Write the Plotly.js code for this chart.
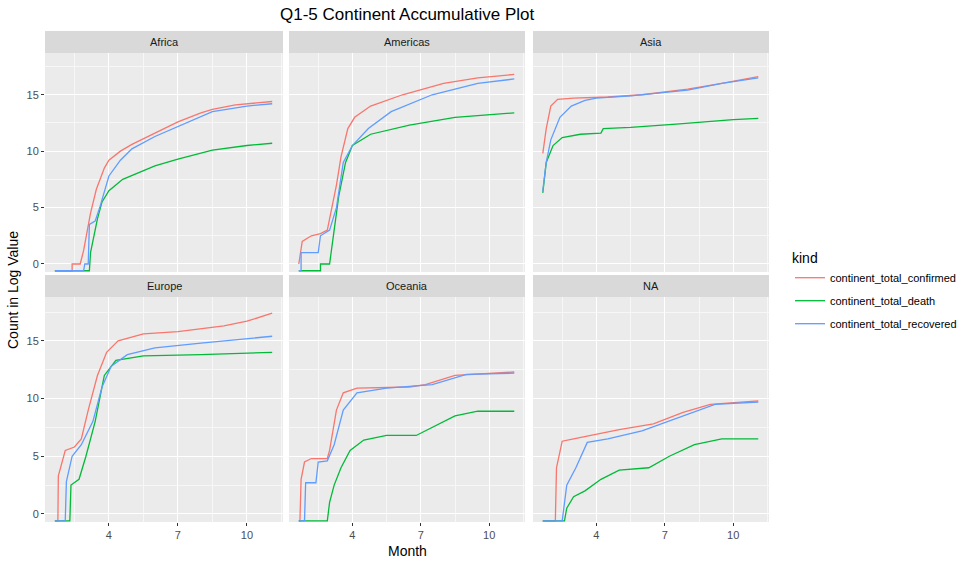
<!DOCTYPE html>
<html><head><meta charset="utf-8">
<script src="https://cdn.plot.ly/plotly-3.0.1.min.js"></script>
<style>body{margin:0}#c{width:970px;height:567px}</style></head>
<body><div id="c"></div>
<script>
const F = -0.6; // log(0) drawn at panel floor
const continents = ["Africa","Americas","Asia","Europe","Oceania","NA"];
const kinds = ["continent_total_confirmed","continent_total_death","continent_total_recovered"];
const colors = ["#F8766D","#00BA38","#619CFF"];
// [month, log count] pairs per continent per kind
const africaConfirmed = [[1.65,F],[2.4,F],[2.4,0],[2.75,0],[2.9,1.2],[3.2,4.5],[3.45,6.6],[3.8,8.5],[4,9.2],[4.5,10],[5,10.6],[6,11.6],[7,12.6],[8,13.4],[8.5,13.7],[9.5,14.1],[11.1,14.4]];
const africaDeath = [[1.65,F],[3.15,F],[3.2,1],[3.3,2],[3.5,4],[3.7,5.5],[4,6.5],[4.6,7.5],[5.5,8.3],[6,8.7],[7,9.3],[8.5,10.1],[10,10.5],[11.1,10.7]];
const africaRecovered = [[1.65,F],[2.9,F],[2.95,0],[3.1,0],[3.15,3.5],[3.4,3.8],[3.6,5],[3.8,6.5],[4,7.8],[4.5,9.2],[5,10.2],[6,11.3],[7,12.2],[8.5,13.5],[10,14],[11.1,14.2]];
const americasConfirmed = [[1.65,0],[1.8,2],[2.2,2.5],[2.6,2.7],[2.9,3],[3.1,5],[3.3,7],[3.5,9.5],[3.8,12],[4.1,13],[4.8,14],[6.2,15],[8,16],[9.5,16.5],[11.1,16.8]];
const americasDeath = [[1.65,F],[2.6,F],[2.6,0],[3.0,0],[3.2,3],[3.4,6],[3.7,9],[4,10.5],[4.8,11.5],[6.5,12.3],[8.5,13],[11.1,13.4]];
const americasRecovered = [[1.65,F],[1.75,F],[1.75,1],[2.5,1],[2.6,2.5],[3.0,3],[3.3,5],[3.6,9],[4,10.5],[4.7,12],[5.7,13.5],[7.5,15],[9.5,16],[11.1,16.4]];
const asiaConfirmed = [[1.65,9.8],[1.8,12],[2.0,14],[2.3,14.6],[3,14.7],[4.5,14.8],[6,15],[8,15.5],[9.5,16],[11.1,16.6]];
const asiaDeath = [[1.65,6.3],[1.8,9],[2.1,10.5],[2.5,11.2],[3.3,11.5],[4.2,11.6],[4.3,12],[5.5,12.1],[7.5,12.4],[10,12.8],[11.1,12.9]];
const asiaRecovered = [[1.65,6.5],[1.8,9],[2.0,11],[2.4,13],[2.9,14],[3.5,14.5],[4,14.7],[5.5,14.9],[8,15.4],[9.5,16],[11.1,16.5]];
const europeConfirmed = [[1.65,F],[1.78,F],[1.8,3.3],[1.9,4],[2.1,5.5],[2.5,5.8],[2.8,6.5],[3.1,9],[3.5,12],[3.9,14],[4.4,15],[5.5,15.6],[7,15.8],[9,16.3],[10,16.7],[11.1,17.4]];
const europeDeath = [[1.65,F],[2.3,F],[2.35,2.5],[2.7,3],[3.0,5],[3.4,8],[3.8,12],[4.3,13.3],[5.5,13.7],[8,13.8],[11.1,14]];
const europeRecovered = [[1.65,F],[2.1,F],[2.15,2.8],[2.4,5],[2.8,6],[3.3,8],[3.7,11],[4.1,12.8],[4.8,13.8],[6,14.4],[8,14.8],[11.1,15.4]];
const oceaniaConfirmed = [[1.65,F],[1.7,F],[1.75,3],[1.9,4.5],[2.2,4.8],[2.9,4.8],[3.0,5.5],[3.3,9],[3.6,10.5],[4.2,10.9],[6.5,11],[7.2,11.2],[8.5,12],[11.1,12.3]];
const oceaniaDeath = [[1.65,F],[2.9,F],[3.0,1],[3.2,2.5],[3.5,4],[3.9,5.5],[4.5,6.4],[5.5,6.8],[6.8,6.8],[7.5,7.5],[8.5,8.5],[9.5,8.9],[11.1,8.9]];
const oceaniaRecovered = [[1.65,F],[1.9,F],[1.95,2.7],[2.4,2.7],[2.5,4.5],[2.9,4.6],[3.2,6],[3.6,9],[4.2,10.5],[5.5,10.9],[7.5,11.2],[9,12.1],[11.1,12.2]];
const naConfirmed = [[1.65,F],[2.2,F],[2.25,4],[2.5,6.3],[3,6.5],[5,7.3],[6.5,7.8],[7.8,8.8],[9,9.5],[11.1,9.8]];
const naDeath = [[1.65,F],[2.6,F],[2.7,0.5],[3,1.5],[3.5,2],[4.2,3],[5,3.8],[6.3,4],[7.2,5],[8.3,6],[9.5,6.5],[11.1,6.5]];
const naRecovered = [[1.65,F],[2.5,F],[2.7,2.5],[3.1,4],[3.6,6.2],[4.5,6.5],[6,7.2],[7.8,8.5],[9.2,9.5],[11.1,9.7]];
const series = [
 [africaConfirmed,africaDeath,africaRecovered],
 [americasConfirmed,americasDeath,americasRecovered],
 [asiaConfirmed,asiaDeath,asiaRecovered],
 [europeConfirmed,europeDeath,europeRecovered],
 [oceaniaConfirmed,oceaniaDeath,oceaniaRecovered],
 [naConfirmed,naDeath,naRecovered]];
const xTicks = [4,7,10], yTicks = [0,5,10,15];

const W=970,H=567;
const cols=[[45,283],[289,525],[533,769]];
const rows=[[53,272],[297,522]];
const traces=[], layout={width:W,height:H,margin:{l:0,r:0,t:0,b:0},paper_bgcolor:'white',plot_bgcolor:'#ebebeb',
 font:{family:'Liberation Sans, Arial',color:'#000'},shapes:[],annotations:[],showlegend:true,
 legend:{x:790/W,y:(H-245)/H,xanchor:'left',yanchor:'top',bgcolor:'rgba(0,0,0,0)',font:{size:11},
  title:{text:'kind',font:{size:14}},tracegroupgap:4}};
continents.forEach((c,i)=>{
 const r=Math.floor(i/3), k=i%3, n=i+1;
 const xa='xaxis'+(n===1?'':n), ya='yaxis'+(n===1?'':n);
 const cx=cols[k], ry=rows[r];
 layout[xa]={domain:[cx[0]/W,cx[1]/W],range:[1.22,11.57],tickvals:xTicks,showticklabels:r===1,
  ticks:r===1?'outside':'',ticklen:3,tickcolor:'#333',gridcolor:'white',gridwidth:1.1,zeroline:false,
  tickfont:{size:11,color:'#4d4d4d'},anchor:'y'+(n===1?'':n),
  minor:{tickvals:[2.5,5.5,8.5,11.5],showgrid:true,gridcolor:'#f7f7f7',gridwidth:0.5}};
 layout[ya]={domain:[(H-ry[1])/H,(H-ry[0])/H],range:r===0?[-0.71,18.7]:[-0.7,18.8],tickvals:yTicks,
  showticklabels:k===0,ticks:k===0?'outside':'',ticklen:3,tickcolor:'#333',gridcolor:'white',gridwidth:1.1,zeroline:false,
  tickfont:{size:11,color:'#4d4d4d'},anchor:'x'+(n===1?'':n),
  minor:{tickvals:[2.5,7.5,12.5,17.5],showgrid:true,gridcolor:'#f7f7f7',gridwidth:0.5}};
 layout.shapes.push({type:'rect',xref:'paper',yref:'paper',x0:cx[0]/W,x1:cx[1]/W,y0:(H-ry[0])/H,y1:(H-ry[0]+22)/H,fillcolor:'#d9d9d9',line:{width:0}});
 layout.annotations.push({xref:'paper',yref:'paper',x:(cx[0]+cx[1])/2/W,y:(H-ry[0]+11)/H,xanchor:'center',yanchor:'middle',text:c,showarrow:false,font:{size:11,color:'#1a1a1a'}});
 series[i].forEach((d,j)=>{
  traces.push({type:'scatter',mode:'lines',x:d.map(p=>p[0]),y:d.map(p=>p[1]),name:kinds[j],legendgroup:kinds[j],
   showlegend:i===0,line:{color:colors[j],width:1.3},xaxis:'x'+(n===1?'':n),yaxis:'y'+(n===1?'':n)});
 });
});
layout.annotations.push({xref:'paper',yref:'paper',x:407/W,y:(H-14)/H,xanchor:'center',yanchor:'middle',text:'Q1-5 Continent Accumulative Plot',showarrow:false,font:{size:17}});
layout.annotations.push({xref:'paper',yref:'paper',x:407/W,y:(H-551)/H,xanchor:'center',yanchor:'middle',text:'Month',showarrow:false,font:{size:14}});
layout.annotations.push({xref:'paper',yref:'paper',x:13/W,y:(H-290)/H,xanchor:'center',yanchor:'middle',text:'Count in Log Value',showarrow:false,textangle:-90,font:{size:14}});
Plotly.newPlot('c',traces,layout,{displayModeBar:false});
</script></body></html>
